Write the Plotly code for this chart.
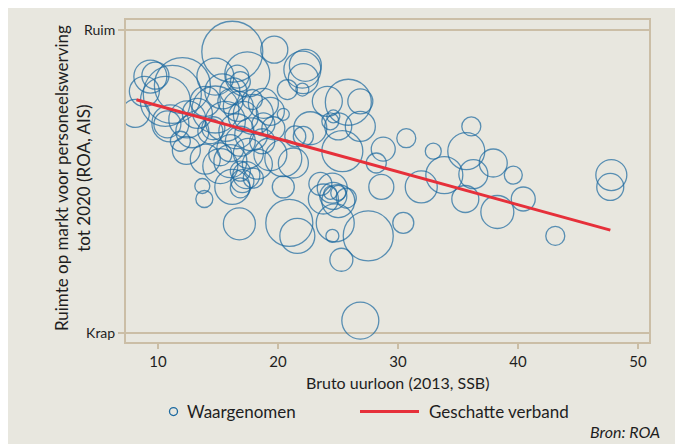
import plotly.graph_objects as go

# Beroepen: bruto uurloon (2013, SSB) vs ruimte op markt (0 = krap, 100 = ruim)
uurloon = [8.11, 9.36, 9.78, 10.61, 12.03, 11.19, 14.78, 16.19, 17.44, 16.61,
           19.69, 16.28, 17.94, 12.36, 13.69, 13.86, 16.78, 16.19, 17.03, 17.36,
           19.61, 22.11, 22.03, 22.28, 22.11, 20.78, 22.03, 24.11, 25.86, 26.86,
           24.61, 20.44, 22.69, 26.86, 25.02, 18.78, 25.36, 28.77, 28.19, 21.44,
           20.44, 20.44, 28.61, 20.94, 21.61, 24.77, 24.53, 25.28, 27.52, 26.86,
           23.78, 25.02, 30.69, 32.94, 35.69, 36.11, 37.94, 36.28, 33.86, 39.61,
           47.78, 47.69, 31.94, 35.61, 40.44, 38.28, 30.44, 43.11, 23.53, 24.52,
           24.61, 24.36, 25.02, 25.69, 19.36, 18.28, 17.94, 21.28, 18.78, 16.03,
           16.86, 17.77, 16.03, 15.19, 14.61, 12.86, 10.78, 14.78, 13.28, 12.44,
           11.03, 16.03, 17.86, 17.11, 16.86, 8.86, 13.94, 15.36, 14.36, 15.61,
           16.86, 15.19, 16.69, 18.69, 19.36, 24.36, 17.53, 16.53, 13.94, 11.86,
           16.86]
ruimte = [72.5, 84.7, 85.0, 76.5, 81.7, 78.8, 84.7, 92.9, 85.4, 84.7,
          93.6, 79.8, 72.2, 60.3, 48.5, 44.2, 36.0, 48.2, 50.1, 52.1,
          67.6, 64.9, 87.0, 88.4, 84.0, 80.4, 80.4, 76.5, 76.2, 76.5,
          71.5, 72.2, 67.6, 68.2, 68.2, 75.8, 60.0, 60.7, 56.1, 64.9,
          57.7, 48.2, 48.2, 36.3, 32.0, 36.3, 32.0, 24.1, 32.0, 4.0,
          44.2, 43.5, 64.3, 60.0, 60.0, 68.2, 56.1, 52.4, 52.1, 52.1,
          52.1, 48.2, 48.2, 44.2, 44.2, 39.9, 36.3, 32.0, 49.2, 47.8,
          45.2, 46.2, 46.2, 44.5, 59.0, 55.7, 51.1, 56.1, 68.9, 56.7,
          53.4, 65.6, 61.0, 59.0, 67.6, 66.6, 68.9, 73.8, 72.5, 70.5,
          69.2, 76.5, 77.1, 71.5, 83.0, 79.8, 76.5, 79.8, 66.6, 69.9,
          63.3, 55.1, 74.8, 63.3, 73.2, 69.9, 59.3, 66.6, 57.4, 63.3,
          47.9]
omvang = [28, 33, 27, 50, 56, 58, 37, 61, 45, 23,
          27, 27, 40, 28, 15, 17, 32, 35, 23, 27,
          23, 20, 37, 32, 30, 20, 13, 30, 46, 25,
          13, 12, 33, 30, 27, 30, 41, 24, 20, 21,
          37, 22, 25, 47, 35, 38, 13, 23, 50, 37,
          30, 33, 19, 16, 37, 19, 28, 29, 37, 18,
          31, 27, 32, 27, 24, 33, 21, 19, 23, 30,
          27, 13, 15, 20, 33, 30, 20, 30, 23, 33,
          20, 33, 27, 23, 23, 33, 27, 47, 30, 37,
          37, 25, 20, 30, 20, 30, 30, 35, 25, 40,
          30, 35, 30, 25, 28, 17, 30, 35, 30, 20,
          20]

# Geschat verband (lineaire fit)
fit_x = [8.2, 47.7]
fit_y = [77.0, 33.9]

x_ticks = [10, 20, 30, 40, 50]
y_ticks = [0, 100]
y_ticklabels = ["Krap", "Ruim"]

BLUE = "#1b69a0"
RED = "#e6303a"
TAN = "#cbbea6"
BG = "#e8e7df"
TXT = "#1e1e1e"
FONT = "Lato"

fig = go.Figure()
fig.add_trace(go.Scatter(
    x=uurloon, y=ruimte, mode="markers", name="Waargenomen",
    marker=dict(size=omvang, sizemode="diameter", sizeref=1,
                color="rgba(0,0,0,0)", line=dict(color=BLUE, width=1.3)),
    showlegend=False, hoverinfo="x+y"))
fig.add_trace(go.Scatter(
    x=fit_x, y=fit_y, mode="lines", name="Geschatte verband",
    line=dict(color=RED, width=3), showlegend=False))

OFF = 8  # page margin of the html body
W, H = 683, 444
L, T = 118, 10
pw, ph = 523, 324
R = W - L - pw
B = H - T - ph

def px(xs):
    """screen x pixel -> paper coordinate"""
    return (xs - OFF - L) / pw

def py(ys):
    """screen y pixel -> paper coordinate"""
    return (T + ph - (ys - OFF)) / ph

fig.update_layout(
    width=W, height=H,
    margin=dict(l=L, r=R, t=T, b=B),
    paper_bgcolor=BG, plot_bgcolor=BG,
    font=dict(family=FONT, color=TXT, size=14),
    xaxis=dict(range=[7.33, 50.92], tickvals=x_ticks, showgrid=False,
               zeroline=False, showline=True, mirror=True, linecolor=TAN,
               linewidth=2, ticks="outside", ticklen=5, tickwidth=2,
               tickcolor=TAN, tickfont=dict(size=15, family=FONT, color=TXT)),
    yaxis=dict(range=[-3.1, 103.4], tickvals=y_ticks, ticktext=y_ticklabels,
               showgrid=True, gridcolor=TAN, gridwidth=2, zeroline=False,
               showline=True, mirror=True, linecolor=TAN, linewidth=2,
               ticks="outside", ticklen=6, tickwidth=2, tickcolor=TAN,
               tickfont=dict(size=14, family=FONT, color=TXT)),
    shapes=[
        dict(type="circle", xref="paper", yref="paper", x0=px(169.5), x1=px(177.5),
             y0=py(416), y1=py(408), line=dict(color=BLUE, width=1.3)),
        dict(type="line", xref="paper", yref="paper", x0=px(360), x1=px(419),
             y0=py(412), y1=py(412), line=dict(color=RED, width=3)),
    ],
    annotations=[
        dict(text="Ruimte op markt voor personeelswerving<br>tot 2020 (ROA, AIS)",
             xref="paper", yref="paper", x=px(72), y=py(177), textangle=-90,
             showarrow=False, xanchor="center", yanchor="middle",
             font=dict(size=17, family=FONT, color=TXT)),
        dict(text="Bruto uurloon (2013, SSB)", xref="paper", yref="paper",
             x=px(397), y=py(383), showarrow=False, xanchor="center",
             yanchor="middle", font=dict(size=16, family=FONT, color=TXT)),
        dict(text="Waargenomen", xref="paper", yref="paper", x=px(185),
             y=py(412), showarrow=False, xanchor="left", yanchor="middle",
             font=dict(size=17, family=FONT, color=TXT)),
        dict(text="Geschatte verband", xref="paper", yref="paper", x=px(427),
             y=py(412), showarrow=False, xanchor="left", yanchor="middle",
             font=dict(size=17, family=FONT, color=TXT)),
        dict(text="<i>Bron: ROA</i>", xref="paper", yref="paper", x=px(662),
             y=py(432), showarrow=False, xanchor="right", yanchor="middle",
             font=dict(size=16, family=FONT, color=TXT)),
    ],
)

fig.write_html("out.html")
